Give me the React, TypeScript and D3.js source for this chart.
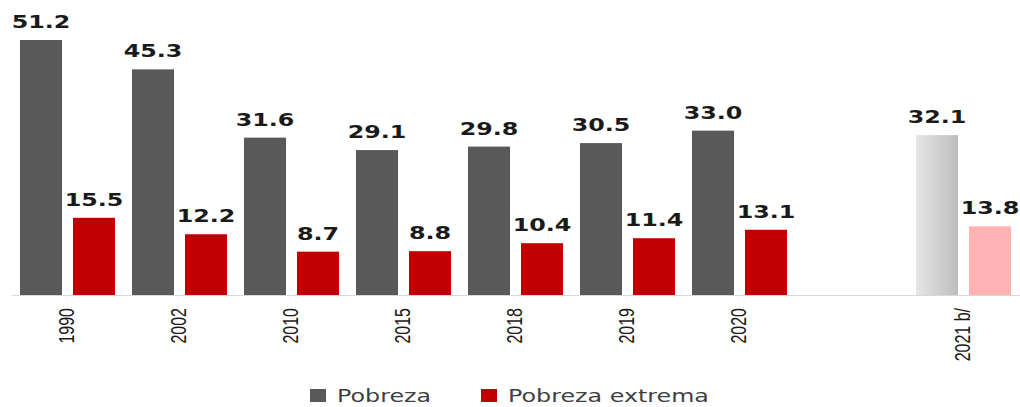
import React from "react";
import * as d3 from "d3";

const categories = ["1990", "2002", "2010", "2015", "2018", "2019", "2020", "2021 b/"];
const pobreza = [51.2, 45.3, 31.6, 29.1, 29.8, 30.5, 33.0, 32.1];
const extrema = [15.5, 12.2, 8.7, 8.8, 10.4, 11.4, 13.1, 13.8];
const projected = [false, false, false, false, false, false, false, true];
const seriesNames = ["Pobreza", "Pobreza extrema"];

const W = 1020;
const H = 407;
const base = 295;
const SX = 1.4;

export default function App() {
  const slots = [...categories.slice(0, 7), "__gap", categories[7]];
  const x = d3.scaleBand<string>().domain(slots).range([11.5, 1019.5]);
  const inner = d3
    .scaleBand<string>()
    .domain(["p", "e"])
    .range([0, x.step()])
    .paddingInner(0.2075)
    .paddingOuter(0.16);
  const y = d3.scaleLinear().domain([0, 51.2]).range([base, 40]);

  const grayCol = "#595959";
  const redCol = "#c00000";

  const valueLabel = (cx: number, top: number, v: number, key: string) => (
    <text
      key={key}
      transform={`translate(${cx},${top - 12}) scale(${SX},1)`}
      textAnchor="middle"
      fontFamily="DejaVu Sans"
      fontWeight="bold"
      fontSize={17}
      fill="#1a1a1a"
    >
      {v.toFixed(1)}
    </text>
  );

  return (
    <svg
      width={W}
      height={H}
      style={{ position: "absolute", left: 0, top: 0, background: "#fff" }}
    >
      <defs>
        <linearGradient id="projGray" x1="0" x2="1" y1="0" y2="0">
          <stop offset="0" stopColor="#e6e6e6" />
          <stop offset="1" stopColor="#bdbdbd" />
        </linearGradient>
      </defs>
      <line x1={12} x2={1020} y1={base + 0.5} y2={base + 0.5} stroke="#d9d9d9" strokeWidth={1} />
      {categories.map((c, i) => {
        const x0 = x(c)!;
        const gx = x0 + inner("p")!;
        const rx = x0 + inner("e")!;
        const bw = inner.bandwidth();
        const yp = y(pobreza[i]);
        const ye = y(extrema[i]);
        const cx = x0 + x.bandwidth() / 2;
        return (
          <g key={c}>
            <rect
              x={gx}
              y={yp}
              width={bw}
              height={base - yp}
              fill={projected[i] ? "url(#projGray)" : grayCol}
            />
            <rect
              x={rx}
              y={ye}
              width={bw}
              height={base - ye}
              fill={projected[i] ? "#ffb3b3" : redCol}
            />
            {valueLabel(gx + bw / 2, yp, pobreza[i], c + "p")}
            {valueLabel(rx + bw / 2, ye, extrema[i], c + "e")}
            <text
              transform={`translate(${cx + 6},308) scale(${SX},1) rotate(-90)`}
              textAnchor="end"
              fontFamily="Liberation Sans"
              fontSize={16}
              fill="#1a1a1a"
            >
              {c}
            </text>
          </g>
        );
      })}
      <g>
        <rect x={310} y={389} width={16} height={13} fill={grayCol} />
        <text
          transform={`translate(337,402) scale(${SX},1)`}
          fontFamily="DejaVu Sans"
          fontSize={17}
          fill="#404040"
        >
          {seriesNames[0]}
        </text>
        <rect x={481} y={389} width={16} height={13} fill={redCol} />
        <text
          transform={`translate(508,402) scale(${SX},1)`}
          fontFamily="DejaVu Sans"
          fontSize={17}
          fill="#404040"
        >
          {seriesNames[1]}
        </text>
      </g>
    </svg>
  );
}
